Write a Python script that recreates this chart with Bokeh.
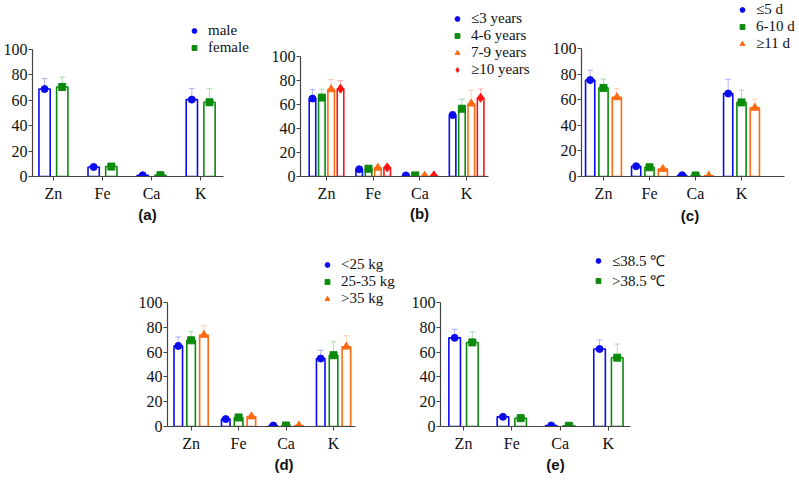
from bokeh.plotting import figure
from bokeh.models import (Range1d, FixedTicker, Whisker, TeeHead, ColumnDataSource,
                          Legend, LegendItem, Spacer)
from bokeh.layouts import row, column
from bokeh.embed import file_html
from bokeh.resources import INLINE

# ---------------- data ----------------
elements = ["Zn", "Fe", "Ca", "K"]

a_groups = ["male", "female"]
a_male = [68.7, 7.5, 1.0, 60.4]
a_male_sd = [8.3, 1.4, 0.4, 8.8]
a_female = [70.3, 7.8, 1.0, 58.3]
a_female_sd = [7.8, 1.4, 0.4, 10.7]

b_groups = ["\u22643 years", "4-6 years", "7-9 years", "\u226510 years"]
b_le3 = [65.0, 6.0, 0.9, 51.2]
b_le3_sd = [7.5, 1.5, 0.3, 2.7]
b_4to6 = [65.8, 6.5, 0.9, 56.5]
b_4to6_sd = [7.0, 1.5, 0.3, 8.0]
b_7to9 = [72.6, 7.2, 0.6, 60.7]
b_7to9_sd = [8.2, 1.6, 0.3, 11.3]
b_ge10 = [73.2, 7.6, 0.9, 65.6]
b_ge10_sd = [6.8, 1.5, 0.3, 7.4]

c_groups = ["\u22645 d", "6-10 d", "\u226511 d"]
c_le5 = [75.3, 8.0, 1.0, 64.8]
c_le5_sd = [7.7, 1.5, 0.4, 11.2]
c_6to10 = [69.2, 7.2, 0.8, 57.9]
c_6to10_sd = [7.0, 1.5, 0.3, 9.5]
c_ge11 = [61.8, 5.8, 0.5, 53.6]
c_ge11_sd = [7.0, 1.6, 0.3, 6.8]

d_groups = ["<25 kg", "25-35 kg", ">35 kg"]
d_lt25 = [65.0, 6.0, 0.8, 54.8]
d_lt25_sd = [7.2, 1.5, 0.3, 6.7]
d_25to35 = [69.5, 7.3, 0.8, 57.5]
d_25to35_sd = [7.0, 1.5, 0.3, 10.8]
d_gt35 = [73.8, 8.0, 0.7, 64.3]
d_gt35_sd = [7.5, 1.6, 0.3, 9.0]

e_groups = ["\u226438.5 \u2103", ">38.5 \u2103"]
e_le385 = [71.5, 7.8, 0.8, 62.5]
e_le385_sd = [7.0, 1.4, 0.3, 7.3]
e_gt385 = [67.8, 6.7, 0.6, 55.5]
e_gt385_sd = [8.5, 1.5, 0.3, 11.0]

y_ticks = [0, 20, 40, 60, 80, 100]

# ---------------- styles ----------------
BLUE = "#0a0af0"
GREEN = "#0b8a0b"
ORANGE = "#ff6a10"
RED = "#ff1010"
SERIF = "Liberation Serif"
SANS = "Liberation Sans"

MARKERS = {BLUE: ("circle", 7), GREEN: ("square", 7), ORANGE: ("triangle", 8), RED: ("diamond", 9)}


def make_panel(label, names, means, sds, colors, g):
    fw, fh = g["fig_w"], g["fig_h"]
    step = g["step"]
    xs = -(g["cat0"] - g["axis_x"]) / step
    xe = xs + (g["fig_left"] + fw - g["axis_x"]) / step
    xb = (g["axis_end"] - g["cat0"]) / step
    ye = 100.0 * (g["y0"] - g["frame_top"]) / (g["y0"] - g["y100"])
    p = figure(width=fw, height=fh, x_range=Range1d(xs, xe), y_range=Range1d(0, ye),
               output_backend="svg", toolbar_location=None,
               min_border_left=g["axis_x"] - g["fig_left"], min_border_right=0,
               min_border_top=g["frame_top"] - g["fig_top"],
               min_border_bottom=g["fig_top"] + fh - g["y0"])
    p.outline_line_color = None
    p.xgrid.visible = False
    p.ygrid.visible = False
    p.background_fill_color = "white"
    p.border_fill_color = "white"

    items = []
    for i, (nm, mv, sd, col) in enumerate(zip(names, means, sds, colors)):
        xpos = [k + g["offsets"][i] for k in range(len(elements))]
        src = ColumnDataSource(dict(x=xpos, top=mv,
                                    upper=[m + s for m, s in zip(mv, sd)],
                                    lower=[m - s for m, s in zip(mv, sd)]))
        p.vbar(x="x", top="top", bottom=0, width=g["bar_w"], source=src,
               fill_color="white", line_color=col, line_width=1.6)
        wh = Whisker(base="x", upper="upper", lower="lower", source=src,
                     dimension="height", line_color=col, line_alpha=0.3, line_width=1,
                     upper_head=TeeHead(size=6, line_color=col, line_alpha=0.3, line_width=1),
                     lower_head=TeeHead(size=6, line_color=col, line_alpha=0.3, line_width=1))
        p.add_layout(wh)
        mk, ms = MARKERS[col]
        r = p.scatter(x="x", y="top", source=src, marker=mk, size=ms,
                      fill_color=col, line_color=col)
        items.append(LegendItem(label=nm, renderers=[r]))

    n = len(names)
    rowh = 17
    gw = 12
    lx = g["leg_x"] - g["axis_x"] - gw / 2
    bottom_px = g["leg_y"] - rowh / 2 + rowh * n
    ly = g["y0"] - bottom_px
    leg = Legend(items=items, location=(lx, ly), glyph_width=gw, glyph_height=rowh,
                 label_height=rowh, label_standoff=8, spacing=0, padding=0, margin=0,
                 border_line_color=None, background_fill_alpha=0,
                 label_text_font=SERIF, label_text_font_size="15px",
                 label_text_color="#111111")
    p.add_layout(leg)

    ya = p.yaxis[0]
    ya.ticker = FixedTicker(ticks=y_ticks)
    ya.bounds = (0, 100)
    ya.minor_tick_line_color = None
    ya.major_tick_in = 0
    ya.major_tick_out = 4
    ya.major_label_standoff = 1
    ya.axis_line_color = "#444444"
    ya.axis_line_width = 1.2
    ya.major_tick_line_color = "#444444"
    ya.major_label_text_font = SERIF
    ya.major_label_text_font_size = "16px"
    ya.major_label_text_color = "#111111"

    xa = p.xaxis[0]
    xa.ticker = FixedTicker(ticks=list(range(len(elements))))
    xa.major_label_overrides = {k: e for k, e in enumerate(elements)}
    xa.bounds = (xs, xb)
    xa.minor_tick_line_color = None
    xa.major_tick_in = 0
    xa.major_tick_out = 4
    xa.major_label_standoff = 4
    xa.axis_line_color = "#444444"
    xa.axis_line_width = 1.2
    xa.major_tick_line_color = "#444444"
    xa.major_label_text_font = SERIF
    xa.major_label_text_font_size = "16px"
    xa.major_label_text_color = "#111111"
    xa.axis_label = label
    xa.axis_label_text_font = SANS
    xa.axis_label_text_font_style = "bold"
    xa.axis_label_text_font_size = "15px"
    xa.axis_label_text_color = "#111111"
    xa.axis_label_standoff = g["lab_off"]
    return p


TOP_H = 230
BOT_H = 249

pa = make_panel("(a)", a_groups, [a_male, a_female], [a_male_sd, a_female_sd], [BLUE, GREEN],
                dict(fig_left=0, fig_w=262, fig_top=0, fig_h=TOP_H, axis_x=31, cat0=52, step=49.3,
                     axis_end=223, y0=177, y100=49, frame_top=0, offsets=[-0.18, 0.18], bar_w=0.23,
                     leg_x=193, leg_y=31, lab_off=1))
pb = make_panel("(b)", b_groups, [b_le3, b_4to6, b_7to9, b_ge10],
                [b_le3_sd, b_4to6_sd, b_7to9_sd, b_ge10_sd], [BLUE, GREEN, ORANGE, RED],
                dict(fig_left=262, fig_w=276, fig_top=0, fig_h=TOP_H, axis_x=300, cat0=326, step=46.7,
                     axis_end=488, y0=179, y100=57, frame_top=0, offsets=[-0.3, -0.1, 0.1, 0.3],
                     bar_w=0.14, leg_x=457, leg_y=21, lab_off=0))
pc = make_panel("(c)", c_groups, [c_le5, c_6to10, c_ge11], [c_le5_sd, c_6to10_sd, c_ge11_sd],
                [BLUE, GREEN, ORANGE],
                dict(fig_left=538, fig_w=260, fig_top=0, fig_h=TOP_H, axis_x=581, cat0=603, step=46,
                     axis_end=784, y0=176, y100=48, frame_top=0, offsets=[-0.29, 0.0, 0.29],
                     bar_w=0.2, leg_x=742, leg_y=9, lab_off=2))
pd_ = make_panel("(d)", d_groups, [d_lt25, d_25to35, d_gt35], [d_lt25_sd, d_25to35_sd, d_gt35_sd],
                 [BLUE, GREEN, ORANGE],
                 dict(fig_left=135, fig_w=265, fig_top=230, fig_h=BOT_H, axis_x=163, cat0=187,
                      step=48.3, axis_end=354, y0=426, y100=302, frame_top=230,
                      offsets=[-0.27, 0.0, 0.27], bar_w=0.18, leg_x=323, leg_y=264, lab_off=1))
pe = make_panel("(e)", e_groups, [e_le385, e_gt385], [e_le385_sd, e_gt385_sd], [BLUE, GREEN],
                dict(fig_left=400, fig_w=270, fig_top=230, fig_h=BOT_H, axis_x=440, cat0=463,
                     step=48.3, axis_end=630, y0=426, y100=302, frame_top=230,
                     offsets=[-0.183, 0.183], bar_w=0.24, leg_x=598, leg_y=264.5, lab_off=1))

layout = column(row(pa, pb, pc), row(Spacer(width=135, height=BOT_H), pd_, pe))

open("out.html", "w").write(file_html(layout, INLINE))
